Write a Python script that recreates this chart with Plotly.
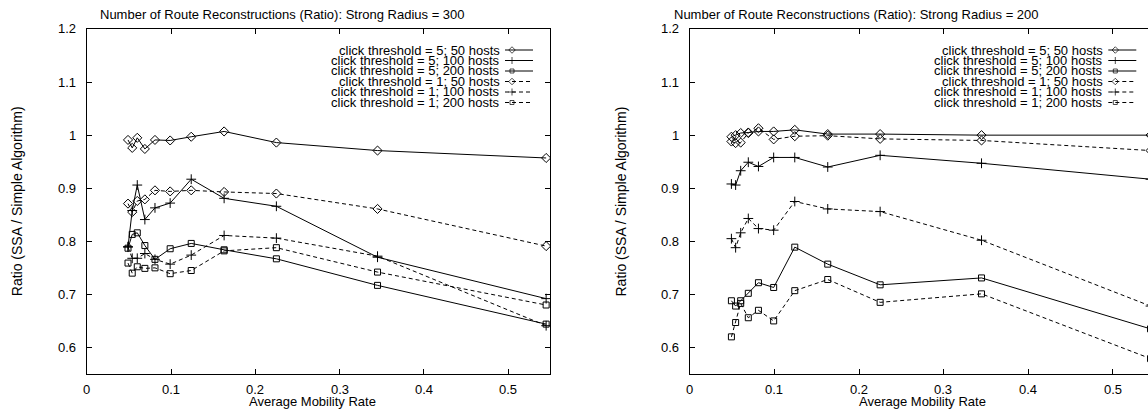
import plotly.graph_objects as go

W, H = 1148, 410

# ---------------- data ----------------
mobility = [0.049, 0.054, 0.060, 0.069, 0.081, 0.099, 0.124, 0.163, 0.225, 0.345, 0.545]

# Strong Radius = 300
r300_t5_50 = [0.991, 0.976, 0.995, 0.974, 0.991, 0.990, 0.997, 1.007, 0.986, 0.971, 0.957]
r300_t5_100 = [0.790, 0.858, 0.906, 0.841, 0.863, 0.872, 0.917, 0.881, 0.866, 0.770, 0.692]
r300_t5_200 = [0.787, 0.813, 0.816, 0.792, 0.766, 0.786, 0.796, 0.784, 0.767, 0.717, 0.644]
r300_t1_50 = [0.871, 0.855, 0.876, 0.879, 0.896, 0.894, 0.896, 0.893, 0.890, 0.861, 0.791]
r300_t1_100 = [0.789, 0.768, 0.768, 0.777, 0.766, 0.757, 0.774, 0.811, 0.806, 0.772, 0.641]
r300_t1_200 = [0.759, 0.740, 0.752, 0.749, 0.750, 0.739, 0.745, 0.782, 0.788, 0.742, 0.680]

# Strong Radius = 200
r200_t5_50 = [0.997, 1.000, 1.004, 1.005, 1.007, 1.007, 1.010, 1.002, 1.002, 1.000, 1.000]
r200_t5_100 = [0.908, 0.906, 0.933, 0.949, 0.941, 0.958, 0.958, 0.940, 0.962, 0.947, 0.917]
r200_t5_200 = [0.688, 0.678, 0.688, 0.702, 0.722, 0.713, 0.789, 0.757, 0.718, 0.731, 0.635]
r200_t1_50 = [0.988, 0.985, 0.986, 1.004, 1.013, 0.992, 0.998, 0.999, 0.993, 0.990, 0.971]
r200_t1_100 = [0.805, 0.788, 0.816, 0.843, 0.824, 0.821, 0.875, 0.861, 0.856, 0.802, 0.678]
r200_t1_200 = [0.620, 0.647, 0.683, 0.656, 0.670, 0.650, 0.707, 0.728, 0.685, 0.701, 0.579]

series_names = [
    "click threshold = 5; 50 hosts",
    "click threshold = 5; 100 hosts",
    "click threshold = 5; 200 hosts",
    "click threshold = 1; 50 hosts",
    "click threshold = 1; 100 hosts",
    "click threshold = 1; 200 hosts",
]
titles = [
    "Number of Route Reconstructions (Ratio): Strong Radius = 300",
    "Number of Route Reconstructions (Ratio): Strong Radius = 200",
]
x_title = "Average Mobility Rate"
y_title = "Ratio (SSA / Simple Algorithm)"
x_ticks = [0, 0.1, 0.2, 0.3, 0.4, 0.5]
x_tick_labels = ["0", "0.1", "0.2", "0.3", "0.4", "0.5"]
y_ticks = [0.6, 0.7, 0.8, 0.9, 1.0, 1.1, 1.2]
y_tick_labels = ["0.6", "0.7", "0.8", "0.9", "1", "1.1", "1.2"]

# ---------------- styles ----------------
FONT = "Liberation Sans, Arial, sans-serif"
FS = 13
FS_LEG = 13
FS_YT = 14
INK = "#000000"
symbols = ["diamond-open", "cross-thin-open", "square-open"] * 2
msizes = [7, 7, 6] * 2
dashes = ["solid"] * 3 + ["4px,3px"] * 3

charts = [
    [r300_t5_50, r300_t5_100, r300_t5_200, r300_t1_50, r300_t1_100, r300_t1_200],
    [r200_t5_50, r200_t5_100, r200_t5_200, r200_t1_50, r200_t1_100, r200_t1_200],
]

# pixel geometry
left_px = [86.7, 690.0]
px_per_unit = [843.0, 845.0]
top_px, bot_px = 29.0, 374.0
y_range = [0.55, 1.2]
legend_shift = 603.3
title_cx = [282, 856]
xlab_cx = [312, 922]
ylab_cx = [16.7, 620]
ytick_right = [78.0, 681.0]
xtick_cy = 389.0

fig = go.Figure()

axis_common = dict(
    showgrid=False, zeroline=False, showline=True, linecolor=INK, linewidth=1,
    ticks="inside", ticklen=5, tickwidth=1, tickcolor=INK, showticklabels=False,
)

annotations = []


def txt(text, x, y, xref="paper", yref="paper", xanchor="center", size=FS, angle=0):
    annotations.append(dict(
        text=text, x=x, y=y, xref=xref, yref=yref, xanchor=xanchor, yanchor="middle",
        showarrow=False, textangle=angle, font=dict(family=FONT, size=size, color=INK)))


for ci, data in enumerate(charts):
    xa = "x" if ci == 0 else "x2"
    ya = "y" if ci == 0 else "y2"
    for si, yvals in enumerate(data):
        fig.add_trace(go.Scatter(
            x=mobility, y=yvals, mode="lines+markers", xaxis=xa, yaxis=ya,
            line=dict(color=INK, width=1, dash=dashes[si]),
            marker=dict(symbol=symbols[si], size=msizes[si], color=INK,
                        line=dict(width=1, color=INK)),
            showlegend=False, name=series_names[si],
        ))
    x0 = left_px[ci]
    x1 = min(W, x0 + 0.55 * px_per_unit[ci])
    xr = (x1 - x0) / px_per_unit[ci]
    xdom = [x0 / W, x1 / W]
    ydom = [1 - bot_px / H, 1 - top_px / H]
    xkey = "xaxis" if ci == 0 else "xaxis2"
    ykey = "yaxis" if ci == 0 else "yaxis2"
    fig.layout[xkey] = dict(axis_common, domain=xdom, range=[0, xr], anchor=ya,
                            tickvals=x_ticks, mirror="ticks")
    fig.layout[ykey] = dict(axis_common, domain=ydom, range=y_range, anchor=xa,
                            tickvals=y_ticks, mirror="ticks" if ci == 0 else False)
    # tick labels placed through the axes' own scales
    for v, lab in zip(x_ticks, x_tick_labels):
        txt(lab, v, 1 - xtick_cy / H, xref=xa, yref="paper")
    for v, lab in zip(y_ticks, y_tick_labels):
        txt(lab, ytick_right[ci] / W, v, xref="paper", yref=ya, xanchor="right")

# overlay pixel axes for legend keys
fig.layout["xaxis3"] = dict(domain=[0, 1], range=[0, W], visible=False, anchor="y3", fixedrange=True)
fig.layout["yaxis3"] = dict(domain=[0, 1], range=[H, 0], visible=False, anchor="x3", fixedrange=True)

row_y = [50, 60.5, 71, 81.5, 92, 102.5]
for ci in range(2):
    off = ci * legend_shift
    text_right = 501.7 + off
    s0, sm, s1 = 505 + off, 512 + off, 533 + off
    for si, name in enumerate(series_names):
        yy = row_y[si]
        txt(name, text_right / W, 1 - yy / H, xanchor="right", size=FS_LEG)
        fig.add_trace(go.Scatter(
            x=[s0, sm, s1], y=[yy, yy, yy], mode="lines+markers", xaxis="x3", yaxis="y3",
            line=dict(color=INK, width=1, dash=dashes[si]),
            marker=dict(symbol=symbols[si], size=[0, msizes[si] - 2, 0], color=INK,
                        line=dict(width=1, color=INK)),
            showlegend=False, hoverinfo="skip"))
    txt(titles[ci], title_cx[ci] / W, 1 - 14 / H)
    txt(x_title, xlab_cx[ci] / W, 1 - 401 / H)
    txt(y_title, ylab_cx[ci] / W, 1 - 201.5 / H, size=FS_YT, angle=-90)

fig.update_layout(
    width=W, height=H, margin=dict(l=0, r=0, t=0, b=0),
    paper_bgcolor="white", plot_bgcolor="rgba(0,0,0,0)",
    annotations=annotations, showlegend=False,
    font=dict(family=FONT, size=FS, color=INK),
)

fig.write_html("out.html")
